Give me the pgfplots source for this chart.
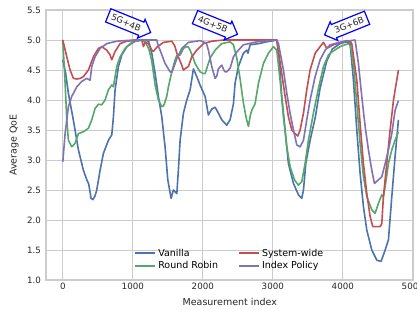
\documentclass[border=0pt]{standalone}
\usepackage{fontspec}
\setmainfont{DejaVu Sans}
\usepackage{pgfplots}
\pgfplotsset{compat=1.18}
\usetikzlibrary{shapes.arrows}
\definecolor{sbblue}{HTML}{4C72B0}
\definecolor{sbgreen}{HTML}{55A868}
\definecolor{sbred}{HTML}{C44E52}
\definecolor{sbpurple}{HTML}{8172B2}
\definecolor{txt}{HTML}{262626}
\definecolor{gridc}{HTML}{CCCCCC}
\begin{document}
\begin{tikzpicture}
\path[use as bounding box] (0,0) rectangle (417pt,309pt);
\begin{axis}[
  at={(46pt,29pt)}, anchor=south west,
  scale only axis, width=367.5pt, height=270pt,
  xmin=-240, xmax=5010, ymin=1, ymax=5.5,
  xtick={0,1000,2000,3000,4000,5000},
  ytick={1.0,1.5,2.0,2.5,3.0,3.5,4.0,4.5,5.0,5.5},
  grid=major, major grid style={gridc, line width=1pt},
  axis line style={gridc, line width=1.2pt},
  tick style={draw=none},
  ticklabel style={font=\fontsize{8.7}{10}\selectfont, text=txt},
  /pgf/number format/assume math mode=true,
  xticklabel style={/pgf/number format/1000 sep={}},
  yticklabel style={/pgf/number format/fixed, /pgf/number format/fixed zerofill, /pgf/number format/precision=1, xshift=-1.5pt},
  xlabel={Measurement index}, ylabel={Average QoE},
  label style={font=\fontsize{9.5}{11}\selectfont, text=txt},
  xlabel style={at={(axis description cs:0.5,-0.0815)}, anchor=center},
  ylabel style={at={(axis description cs:-0.087,0.5)}, anchor=center},
  legend columns=2, legend cell align=left,
  legend style={at={(axis description cs:0.5,0.02)}, anchor=south, draw=none, fill=none,
    font=\fontsize{9.5}{11}\selectfont,
    /tikz/every even column/.append style={column sep=18pt},
    row sep=0pt},
  legend image code/.code={\draw[#1, line width=2pt] (0pt,0pt) -- (20pt,0pt);},
  clip mode=individual,
  every axis plot/.append style={line width=1.6pt, line join=round},
]
\addplot[sbblue, forget plot] coordinates {
(0,4.67) (40,4.45) (80,4.11) (150,3.67) (223,3.17) (294,2.83) (343,2.67) (370,2.6) (404,2.36) (430,2.34) (460,2.4) (485,2.5) (533,2.83) (580,3.11) (652,3.33) (700,3.42) (723,3.72) (747,4.17) (795,4.56) (843,4.75) (914,4.89) (1033,4.98) (1150,5.0) (1225,4.98) (1271,4.78) (1319,4.44) (1366,4.06) (1414,3.72) (1461,3.22) (1500,2.67) (1547,2.36) (1580,2.5) (1605,2.47) (1629,2.44) (1651,2.83) (1676,3.33) (1723,3.78) (1771,4.0) (1819,4.17) (1866,4.52) (1914,4.39) (1961,4.25) (2033,4.06) (2080,3.75) (2128,3.85) (2176,3.88) (2223,3.78) (2271,3.67) (2342,3.58) (2390,3.67) (2438,3.94) (2461,4.28) (2509,4.56) (2580,4.78) (2628,4.83) (2645,4.78) (2676,4.92) (2800,4.94) (2914,4.97) (3058,5.0) (3090,4.7) (3128,4.06) (3176,3.5) (3223,2.94) (3295,2.61) (3366,2.42) (3414,2.36) (3438,2.5) (3471,2.94) (3533,3.33) (3605,3.7) (3676,4.2) (3771,4.65) (3850,4.85) (3960,4.94) (4060,4.97) (4104,4.94) (4152,4.33) (4200,3.5) (4247,2.78) (4295,2.22) (4343,1.83) (4414,1.5) (4486,1.33) (4547,1.31) (4605,1.5) (4652,1.67) (4700,2.39) (4747,3.06) (4795,3.67)
};
\addplot[sbgreen, forget plot] coordinates {
(0,5.0) (33,4.28) (57,3.67) (80,3.33) (128,3.22) (176,3.28) (223,3.44) (295,3.47) (366,3.53) (414,3.67) (461,3.86) (509,3.93) (557,3.92) (604,4.0) (652,4.17) (700,4.25) (723,4.22) (747,4.39) (771,4.56) (819,4.72) (890,4.86) (986,4.96) (1104,5.0) (1176,4.97) (1230,4.85) (1271,4.65) (1319,4.25) (1366,4.0) (1414,3.89) (1437,3.9) (1461,3.97) (1485,4.06) (1509,4.22) (1557,4.47) (1604,4.67) (1629,4.74) (1676,4.75) (1723,4.86) (1771,4.89) (1795,4.88) (1819,4.83) (1866,4.69) (1890,4.61) (1914,4.56) (1961,4.47) (2009,4.44) (2033,4.44) (2080,4.61) (2104,4.7) (2176,4.83) (2271,4.94) (2390,4.97) (2438,4.92) (2485,4.7) (2533,4.35) (2580,3.95) (2620,3.7) (2652,3.56) (2680,3.75) (2700,3.83) (2747,3.94) (2795,4.28) (2866,4.61) (2938,4.78) (3009,4.89) (3057,4.83) (3104,4.33) (3152,3.72) (3200,3.22) (3247,2.89) (3309,2.67) (3366,2.58) (3414,2.64) (3461,2.94) (3509,3.33) (3580,3.78) (3652,4.19) (3724,4.56) (3795,4.75) (3843,4.8) (3961,4.89) (4081,4.94) (4110,4.9) (4152,4.61) (4200,3.94) (4247,3.28) (4295,2.72) (4343,2.39) (4414,2.17) (4461,2.11) (4509,2.28) (4557,2.42) (4580,2.38) (4605,2.56) (4652,2.94) (4700,3.17) (4747,3.33) (4795,3.47)
};
\addplot[sbred, forget plot] coordinates {
(0,5.0) (57,4.72) (104,4.5) (152,4.36) (200,4.35) (247,4.36) (295,4.39) (366,4.5) (437,4.72) (509,4.86) (557,4.89) (628,4.83) (676,4.75) (700,4.67) (747,4.81) (819,4.94) (914,4.98) (1128,5.0) (1152,4.89) (1176,4.96) (1224,4.94) (1271,4.83) (1295,4.81) (1343,4.88) (1437,4.96) (1557,4.98) (1600,4.9) (1629,4.78) (1700,4.58) (1723,4.5) (1747,4.52) (1795,4.56) (1843,4.72) (1914,4.83) (2009,4.94) (2128,4.98) (2300,5.0) (3057,5.0) (3128,4.44) (3176,4.06) (3223,3.72) (3271,3.5) (3319,3.44) (3357,3.4) (3390,3.5) (3438,3.78) (3485,4.17) (3533,4.5) (3605,4.78) (3676,4.89) (3724,4.96) (3771,4.86) (3866,4.92) (4057,4.99) (4110,4.97) (4128,4.94) (4200,4.33) (4247,3.61) (4295,2.94) (4343,2.44) (4390,2.06) (4428,1.89) (4533,1.89) (4557,1.94) (4580,2.39) (4628,2.94) (4676,3.5) (4724,4.0) (4795,4.5)
};
\addplot[sbpurple, forget plot] coordinates {
(0,2.97) (33,3.44) (80,3.89) (128,4.06) (200,4.22) (271,4.31) (342,4.36) (390,4.33) (414,4.56) (461,4.72) (533,4.86) (628,4.94) (771,4.98) (1010,5.0) (1343,5.0) (1366,4.89) (1390,4.83) (1461,4.61) (1533,4.47) (1557,4.46) (1580,4.53) (1629,4.69) (1700,4.86) (1795,4.96) (1961,4.99) (2050,4.95) (2080,4.83) (2128,4.56) (2176,4.36) (2200,4.4) (2223,4.52) (2271,4.58) (2300,4.5) (2319,4.47) (2342,4.47) (2390,4.53) (2438,4.72) (2485,4.8) (2580,4.92) (2771,4.97) (3057,5.0) (3081,4.94) (3152,4.5) (3200,4.11) (3247,3.78) (3295,3.5) (3343,3.25) (3390,3.22) (3438,3.33) (3485,3.67) (3533,4.0) (3605,4.39) (3676,4.67) (3748,4.83) (3819,4.92) (3986,4.97) (4176,5.0) (4223,4.61) (4271,4.06) (4319,3.56) (4366,3.17) (4414,2.83) (4452,2.61) (4509,2.67) (4557,2.72) (4605,2.94) (4652,3.17) (4700,3.44) (4747,3.83) (4795,3.99)
};
\addlegendimage{sbblue}
\addlegendentry{Vanilla}
\addlegendimage{sbred}
\addlegendentry{System-wide}
\addlegendimage{sbgreen}
\addlegendentry{Round Robin}
\addlegendimage{sbpurple}
\addlegendentry{Index Policy}
\node[single arrow, draw=blue, line width=1.2pt, fill=white, rotate=-22, single arrow head extend=3pt, inner sep=3.2pt, text=txt, font=\fontsize{8.7}{10}\selectfont] at (axis cs:905,5.29) {5G+4B};
\node[single arrow, draw=blue, line width=1.2pt, fill=white, rotate=-22, single arrow head extend=3pt, inner sep=3.2pt, text=txt, font=\fontsize{8.7}{10}\selectfont] at (axis cs:2145,5.26) {4G+5B};
\node[single arrow, draw=blue, line width=1.2pt, fill=white, rotate=22, shape border rotate=180, single arrow head extend=3pt, inner sep=3.2pt, text=txt, font=\fontsize{8.7}{10}\selectfont] at (axis cs:4090,5.25) {3G+6B};
\end{axis}
\end{tikzpicture}
\end{document}
